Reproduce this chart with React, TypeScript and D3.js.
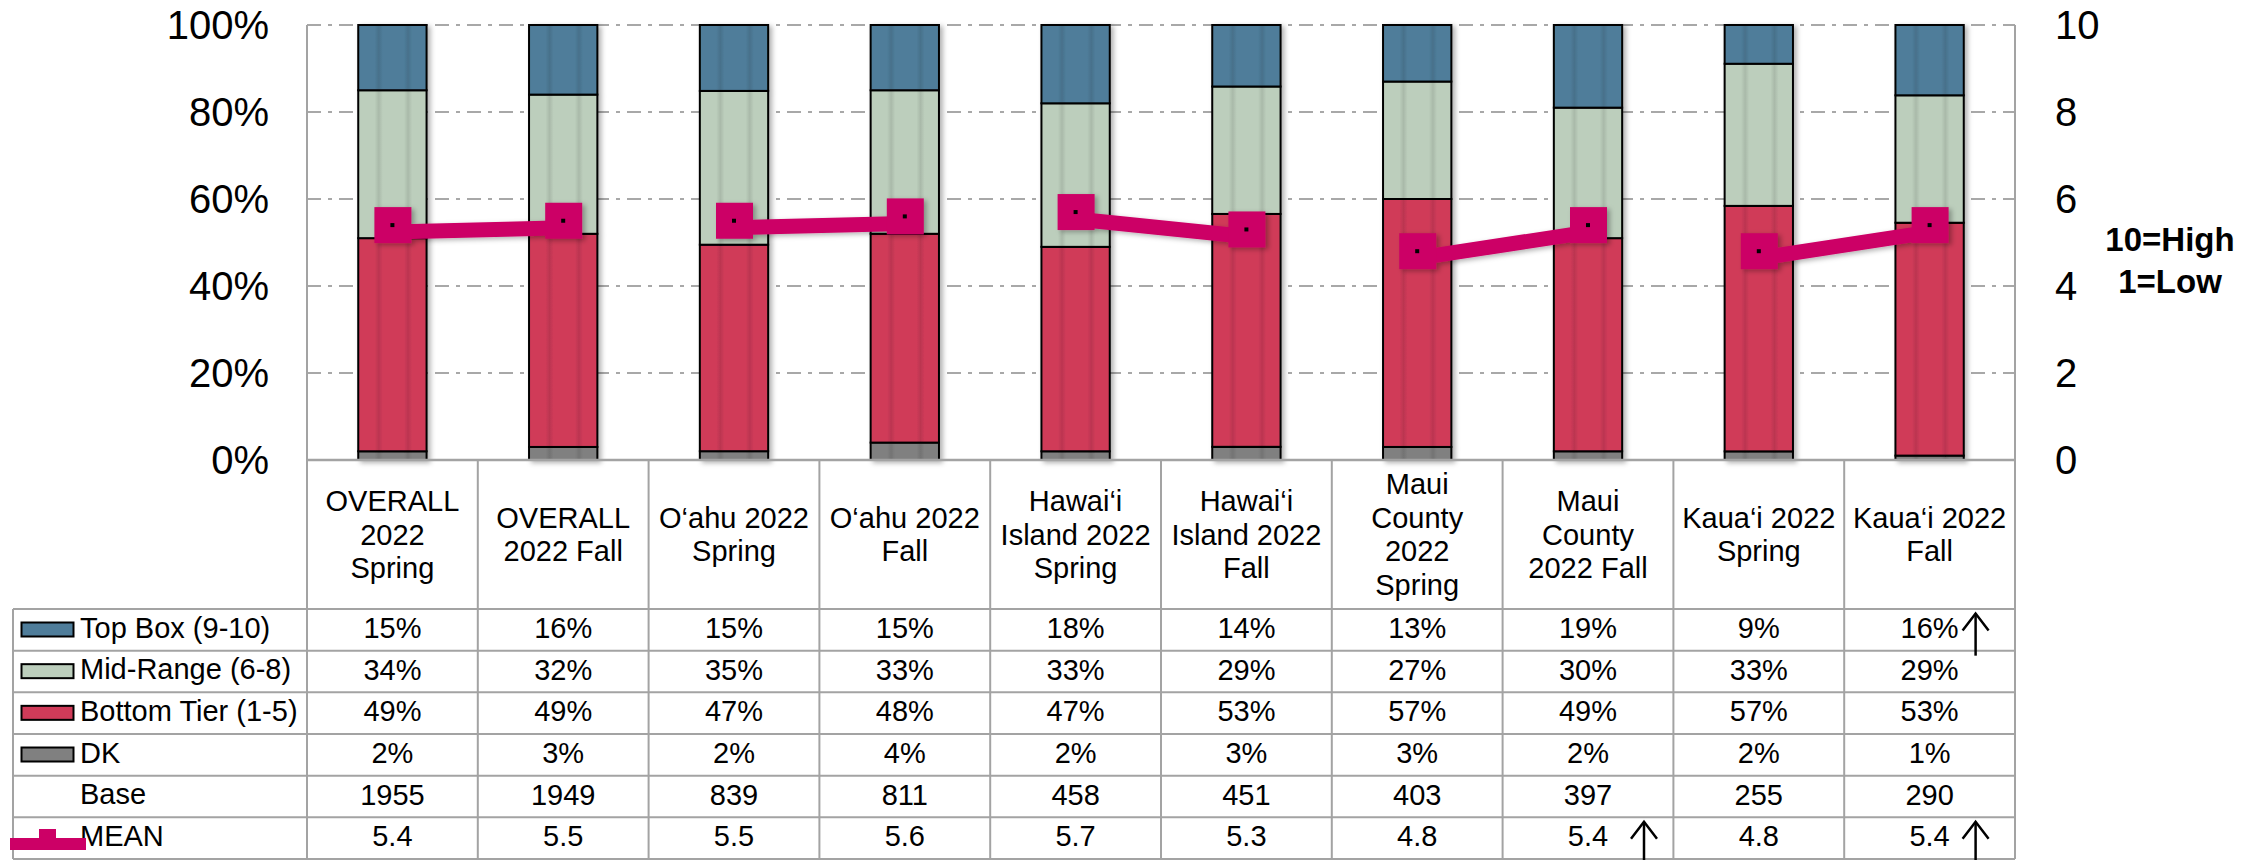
import React from 'react';
import * as d3 from 'd3';

// ---------- data ----------
const categories = [
  'OVERALL 2022 Spring', 'OVERALL 2022 Fall', 'O‘ahu 2022 Spring', 'O‘ahu 2022 Fall',
  'Hawai‘i Island 2022 Spring', 'Hawai‘i Island 2022 Fall', 'Maui County 2022 Spring',
  'Maui County 2022 Fall', 'Kaua‘i 2022 Spring', 'Kaua‘i 2022 Fall',
];
const categoryLines = [
  ['OVERALL', '2022', 'Spring'],
  ['OVERALL', '2022 Fall'],
  ['O‘ahu 2022', 'Spring'],
  ['O‘ahu 2022', 'Fall'],
  ['Hawai‘i', 'Island 2022', 'Spring'],
  ['Hawai‘i', 'Island 2022', 'Fall'],
  ['Maui', 'County', '2022', 'Spring'],
  ['Maui', 'County', '2022 Fall'],
  ['Kaua‘i 2022', 'Spring'],
  ['Kaua‘i 2022', 'Fall'],
];
const regionGroup = ['OVERALL', 'OVERALL', 'O‘ahu', 'O‘ahu', 'Hawai‘i', 'Hawai‘i', 'Maui', 'Maui', 'Kaua‘i', 'Kaua‘i'];
const topBox = [15, 16, 15, 15, 18, 14, 13, 19, 9, 16];
const midRange = [34, 32, 35, 33, 33, 29, 27, 30, 33, 29];
const bottomTier = [49, 49, 47, 48, 47, 53, 57, 49, 57, 53];
const dk = [2, 3, 2, 4, 2, 3, 3, 2, 2, 1];
const base = [1955, 1949, 839, 811, 458, 451, 403, 397, 255, 290];
const mean = [5.4, 5.5, 5.5, 5.6, 5.7, 5.3, 4.8, 5.4, 4.8, 5.4];
const pctTicks = [0, 20, 40, 60, 80, 100];
const meanTicks = [0, 2, 4, 6, 8, 10];
const seriesNames = ['Top Box (9-10)', 'Mid-Range (6-8)', 'Bottom Tier (1-5)', 'DK'];
const otherRows = ['Base', 'MEAN'];
const upArrows = [
  { row: 0, col: 9 },
  { row: 5, col: 7 },
  { row: 5, col: 9 },
];

// ---------- style / layout ----------
const W = 2267;
const H = 860;
const plotL = 307;
const plotR = 2015;
const plotT = 25;
const plotB = 460;
const tableL = 13;
const headerBottom = 609;
const rowH = 41.67;
const FONT = "'Liberation Sans', Arial, Helvetica, sans-serif";
const colors = {
  top: '#4f7d9a',
  mid: '#bccebc',
  bottom: '#d03b59',
  dk: '#808080',
  mean: '#cc0066',
  grid: '#8c8c8c',
  table: '#a3a3a3',
};
const seriesColors = [colors.top, colors.mid, colors.bottom, colors.dk];
const arrowOffset = [46, 56, 46];

export default function App() {
  const x = d3.scaleBand<string>().domain(categories).range([plotL, plotR]).paddingInner(0).paddingOuter(0);
  const bw = x.bandwidth();
  const barW = bw * 0.4;
  const yPct = d3.scaleLinear().domain([0, 100]).range([plotB, plotT]);
  const yMean = d3.scaleLinear().domain([0, 10]).range([plotB, plotT]);

  const rows = categories.map((c, i) => {
    const sum = topBox[i] + midRange[i] + bottomTier[i] + dk[i];
    const k = 100 / sum;
    return { cat: c, dk: dk[i] * k, bottom: bottomTier[i] * k, mid: midRange[i] * k, top: topBox[i] * k };
  });
  const keys = ['dk', 'bottom', 'mid', 'top'];
  const keyColor: Record<string, string> = { dk: colors.dk, bottom: colors.bottom, mid: colors.mid, top: colors.top };
  const stacked = d3.stack<any>().keys(keys)(rows);

  const cx = (i: number) => (x(categories[i]) as number) + bw / 2;
  const lineOffset = 7;
  const meanLine = d3
    .line<{ i: number; v: number }>()
    .x((d) => cx(d.i))
    .y((d) => yMean(d.v) + lineOffset);
  const meanPoints = mean.map((v, i) => ({ i, v, g: regionGroup[i] }));
  const segments = Array.from(d3.group(meanPoints, (d) => d.g).values());

  const rowTop = (r: number) => headerBottom + r * rowH;
  const tableBottom = rowTop(6);
  const allRowLabels = [...seriesNames, ...otherRows];
  const tableValues: string[][] = [
    topBox.map((v) => `${v}%`),
    midRange.map((v) => `${v}%`),
    bottomTier.map((v) => `${v}%`),
    dk.map((v) => `${v}%`),
    base.map((v) => `${v}`),
    mean.map((v) => d3.format('.1f')(v)),
  ];
  const colEdges = [...categories.map((c) => x(c) as number), plotR];
  const headerCenter = (plotB + headerBottom) / 2;
  const lh = 33.5;

  return (
    <div style={{ position: 'absolute', left: 0, top: 0 }}>
      <svg width={W} height={H} viewBox={`0 0 ${W} ${H}`} style={{ display: 'block', background: '#fff' }} fontFamily={FONT}>
        <defs>
          <linearGradient id="stripes" x1="0" x2="1" y1="0" y2="0">
            <stop offset="0" stopColor="#000" stopOpacity="0" />
            <stop offset="0.24" stopColor="#000" stopOpacity="0" />
            <stop offset="0.30" stopColor="#000" stopOpacity="0.1" />
            <stop offset="0.36" stopColor="#000" stopOpacity="0" />
            <stop offset="0.67" stopColor="#000" stopOpacity="0" />
            <stop offset="0.73" stopColor="#000" stopOpacity="0.1" />
            <stop offset="0.79" stopColor="#000" stopOpacity="0" />
            <stop offset="1" stopColor="#000" stopOpacity="0" />
          </linearGradient>
          <filter id="shadow" x="-20%" y="-5%" width="150%" height="115%">
            <feDropShadow dx="3" dy="2" stdDeviation="2.5" floodColor="#000" floodOpacity="0.3" />
          </filter>
        </defs>

        {/* gridlines */}
        {pctTicks.filter((t) => t > 0).map((t) => (
          <line key={t} x1={plotL} x2={plotR} y1={yPct(t)} y2={yPct(t)} stroke={colors.grid} strokeWidth={1.5} strokeDasharray="14,7,4,7" />
        ))}

        {/* axes lines */}
        <line x1={plotL} x2={plotL} y1={plotT} y2={plotB} stroke={colors.table} strokeWidth={2} />
        <line x1={plotR} x2={plotR} y1={plotT} y2={plotB} stroke={colors.table} strokeWidth={2} />

        {/* left ticks */}
        {pctTicks.map((t) => (
          <text key={t} x={269} y={yPct(t) + 14} textAnchor="end" fontSize={40} fill="#000">{`${t}%`}</text>
        ))}
        {/* right ticks */}
        {meanTicks.map((t) => (
          <text key={t} x={2055} y={yMean(t) + 14} textAnchor="start" fontSize={40} fill="#000">{t}</text>
        ))}
        <text x={2170} y={251} textAnchor="middle" fontSize={33} fontWeight="bold" fill="#000">10=High</text>
        <text x={2170} y={293} textAnchor="middle" fontSize={33} fontWeight="bold" fill="#000">1=Low</text>

        {/* bars */}
        {categories.map((c, i) => (
          <g key={c} filter="url(#shadow)">
            {stacked.map((s) => {
              const d = s[i];
              const y0 = yPct(d[0]);
              const y1 = yPct(d[1]);
              return (
                <g key={s.key}>
                  <rect x={cx(i) - barW / 2} y={y1} width={barW} height={y0 - y1} fill={keyColor[s.key]} />
                  <rect x={cx(i) - barW / 2} y={y1} width={barW} height={y0 - y1} fill="url(#stripes)" stroke="#000" strokeWidth={2} />
                </g>
              );
            })}
          </g>
        ))}

        {/* mean line (Spring -> Fall segments per region) */}
        <g filter="url(#shadow)">
          {segments.map((seg, k) => (
            <path key={k} d={meanLine(seg) || ''} fill="none" stroke={colors.mean} strokeWidth={15} />
          ))}
          {mean.map((m, i) => (
            <rect key={i} x={cx(i) - 18} y={yMean(m) - 18} width={37} height={36} fill={colors.mean} />
          ))}
        </g>
        {mean.map((m, i) => (
          <rect key={i} x={cx(i) - 2} y={yMean(m) - 2} width={4} height={4} fill="#000" />
        ))}

        {/* table grid */}
        <g stroke={colors.table} strokeWidth={2} fill="none">
          <line x1={plotL - 1} x2={plotR + 1} y1={plotB} y2={plotB} strokeWidth={2.5} />
          {d3.range(7).map((r) => (
            <line key={r} x1={tableL} x2={plotR} y1={rowTop(r)} y2={rowTop(r)} />
          ))}
          <line x1={tableL} x2={tableL} y1={headerBottom} y2={tableBottom} />
          {colEdges.map((e, k) => (
            <line key={k} x1={e} x2={e} y1={plotB} y2={tableBottom} />
          ))}
        </g>

        {/* header labels */}
        {categoryLines.map((lines, i) => (
          <text key={i} textAnchor="middle" fontSize={29} fill="#000">
            {lines.map((ln, j) => (
              <tspan key={j} x={cx(i)} y={headerCenter - ((lines.length - 1) / 2) * lh + j * lh + 10}>{ln}</tspan>
            ))}
          </text>
        ))}

        {/* row labels + legend keys */}
        {allRowLabels.map((lab, r) => (
          <g key={lab}>
            {r < 4 && (
              <rect x={21.5} y={rowTop(r) + 13.5} width={52} height={14} fill={seriesColors[r]} stroke="#000" strokeWidth={2} />
            )}
            <text x={80} y={rowTop(r) + 28.5} fontSize={29} fill="#000">{lab}</text>
          </g>
        ))}
        {/* MEAN legend key */}
        <g>
          <rect x={39} y={829} width={17} height={14} fill={colors.mean} />
          <rect x={10} y={838} width={76} height={12} fill={colors.mean} />
        </g>

        {/* table values */}
        {tableValues.map((vals, r) =>
          vals.map((v, i) => (
            <text key={`${r}-${i}`} x={cx(i)} y={rowTop(r) + 29} textAnchor="middle" fontSize={29} fill="#000">{v}</text>
          ))
        )}

        {/* significance arrows */}
        {upArrows.map((a, k) => {
          const ax = cx(a.col) + arrowOffset[k];
          const top = rowTop(a.row) + 4.5;
          const bottom = rowTop(a.row + 1) + 5;
          return (
            <g key={k} stroke="#000" strokeWidth={2.5} fill="none">
              <line x1={ax} x2={ax} y1={top} y2={bottom} />
              <polyline points={`${ax - 13},${top + 17} ${ax},${top} ${ax + 13},${top + 17}`} />
            </g>
          );
        })}
      </svg>
    </div>
  );
}
